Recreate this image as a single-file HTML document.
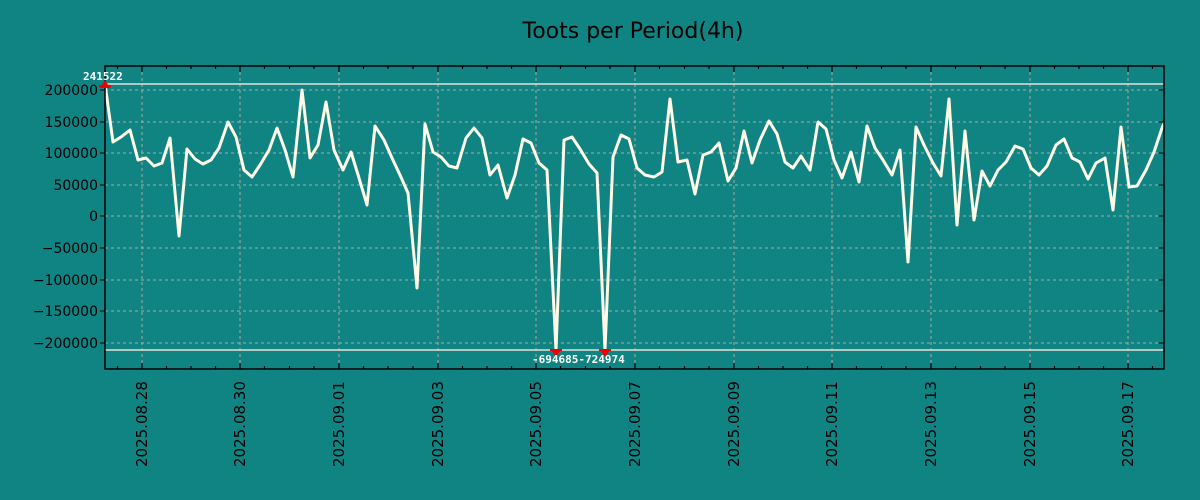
<!DOCTYPE html>
<html><head><meta charset="utf-8"><style>
html,body{margin:0;padding:0;background:#108383;}
svg{display:block;font-family:"DejaVu Sans","Liberation Sans",sans-serif;}
</style></head><body>
<svg width="1200" height="500" viewBox="0 0 1200 500" xmlns="http://www.w3.org/2000/svg">
<defs><clipPath id="c"><rect x="105" y="66" width="1059" height="303"/></clipPath></defs>
<rect width="1200" height="500" fill="#108383"/>
<text x="633" y="38" font-size="22" text-anchor="middle" fill="#000">Toots per Period(4h)</text>
<g stroke="#c8b8b0" stroke-width="1" stroke-dasharray="3,3" opacity="0.8">
<line x1="105" x2="1164" y1="90" y2="90"/><line x1="105" x2="1164" y1="122" y2="122"/><line x1="105" x2="1164" y1="153" y2="153"/><line x1="105" x2="1164" y1="185" y2="185"/><line x1="105" x2="1164" y1="216" y2="216"/><line x1="105" x2="1164" y1="248" y2="248"/><line x1="105" x2="1164" y1="280" y2="280"/><line x1="105" x2="1164" y1="311" y2="311"/><line x1="105" x2="1164" y1="343" y2="343"/>
<line y1="66" y2="369" x1="142" x2="142"/><line y1="66" y2="369" x1="240" x2="240"/><line y1="66" y2="369" x1="339" x2="339"/><line y1="66" y2="369" x1="438" x2="438"/><line y1="66" y2="369" x1="536" x2="536"/><line y1="66" y2="369" x1="635" x2="635"/><line y1="66" y2="369" x1="734" x2="734"/><line y1="66" y2="369" x1="832" x2="832"/><line y1="66" y2="369" x1="931" x2="931"/><line y1="66" y2="369" x1="1030" x2="1030"/><line y1="66" y2="369" x1="1128" x2="1128"/>
</g>
<line x1="105" x2="1164" y1="84" y2="84" stroke="#e8e0d8" stroke-width="1.5"/>
<line x1="105" x2="1164" y1="350" y2="350" stroke="#e8e0d8" stroke-width="1.5"/>
<polyline clip-path="url(#c)" fill="none" stroke="#fffbe6" stroke-width="3" stroke-linejoin="round" points="105,84 113,142 121,137 130,130 138,160 146,158 154,166 162,163 170,138 179,236 187,149 195,159 203,164 211,160 219,148 228,122 236,137 244,170 252,177 260,165 269,150 277,128 285,150 293,177 302,90 310,158 318,145 326,102 334,150 343,170 351,152 359,178 367,205 375,126 384,140 392,158 400,175 408,193 417,288 425,124 433,152 441,157 449,166 457,168 466,138 474,128 482,138 490,175 498,165 507,198 515,175 523,139 531,143 539,163 547,170 556,350 564,140 572,137 580,149 589,164 597,173 605,350 613,157 621,135 629,139 637,168 645,175 654,177 662,172 670,99 678,162 687,160 695,194 703,155 711,152 719,143 728,181 736,168 744,131 752,163 760,140 769,121 777,134 785,162 793,168 801,156 810,170 818,122 826,129 834,160 842,178 851,152 859,182 867,126 875,148 883,160 892,175 900,150 908,262 916,127 924,145 933,163 941,176 949,99 957,225 965,131 974,220 982,171 990,186 998,170 1006,162 1015,146 1023,149 1031,168 1039,175 1047,166 1056,145 1064,139 1072,158 1080,162 1088,179 1096,163 1105,158 1113,210 1121,127 1129,187 1137,186 1146,170 1154,152 1162,128 1170,110"/>
<rect x="105" y="66" width="1059" height="303" fill="none" stroke="#000" stroke-width="1.5"/>
<g fill="#e00">
<polygon points="100,88 110,88 105,80"/><rect x="99" y="85" width="12" height="2"/>
<polygon points="551,350 561,350 556,357"/><rect x="550" y="349" width="12" height="2"/>
<polygon points="600,350 610,350 605,357"/><rect x="599" y="349" width="12" height="2"/>
</g>
<g font-size="11" font-weight="bold" fill="#fff" font-family="'DejaVu Sans Mono','Liberation Mono',monospace">
<text x="83" y="80">241522</text>
<text x="532" y="363">-694685-724974</text>
</g>
<g stroke="#000" stroke-width="1">
<line x1="100" x2="105" y1="90" y2="90"/><line x1="100" x2="105" y1="122" y2="122"/><line x1="100" x2="105" y1="153" y2="153"/><line x1="100" x2="105" y1="185" y2="185"/><line x1="100" x2="105" y1="216" y2="216"/><line x1="100" x2="105" y1="248" y2="248"/><line x1="100" x2="105" y1="280" y2="280"/><line x1="100" x2="105" y1="311" y2="311"/><line x1="100" x2="105" y1="343" y2="343"/>
<line x1="1164" x2="1159" y1="90" y2="90"/><line x1="1164" x2="1159" y1="122" y2="122"/><line x1="1164" x2="1159" y1="153" y2="153"/><line x1="1164" x2="1159" y1="185" y2="185"/><line x1="1164" x2="1159" y1="216" y2="216"/><line x1="1164" x2="1159" y1="248" y2="248"/><line x1="1164" x2="1159" y1="280" y2="280"/><line x1="1164" x2="1159" y1="311" y2="311"/><line x1="1164" x2="1159" y1="343" y2="343"/>
</g>
<g stroke="#000" stroke-width="1.2">
<path d="M142,369v-6M240,369v-6M339,369v-6M438,369v-6M536,369v-6M635,369v-6M734,369v-6M832,369v-6M931,369v-6M1030,369v-6M1128,369v-6M142,66v6M240,66v6M339,66v6M438,66v6M536,66v6M635,66v6M734,66v6M832,66v6M931,66v6M1030,66v6M1128,66v6"/>
<path d="M117.5,369v-3M166.5,369v-3M191,369v-3M215.5,369v-3M264.5,369v-3M289.5,369v-3M314,369v-3M363.5,369v-3M388,369v-3M413,369v-3M462.5,369v-3M487,369v-3M511.5,369v-3M560.5,369v-3M585.5,369v-3M610,369v-3M659.5,369v-3M684.5,369v-3M709,369v-3M758.5,369v-3M783,369v-3M807.5,369v-3M856.5,369v-3M881.5,369v-3M906,369v-3M955.5,369v-3M980.5,369v-3M1005,369v-3M1054.5,369v-3M1079,369v-3M1103.5,369v-3M1152.5,369v-3"/>
<path d="M117.5,66v3M166.5,66v3M191,66v3M215.5,66v3M264.5,66v3M289.5,66v3M314,66v3M363.5,66v3M388,66v3M413,66v3M462.5,66v3M487,66v3M511.5,66v3M560.5,66v3M585.5,66v3M610,66v3M659.5,66v3M684.5,66v3M709,66v3M758.5,66v3M783,66v3M807.5,66v3M856.5,66v3M881.5,66v3M906,66v3M955.5,66v3M980.5,66v3M1005,66v3M1054.5,66v3M1079,66v3M1103.5,66v3M1152.5,66v3"/>
</g>
<g font-size="14" fill="#000" text-anchor="end">
<text x="98" y="95">200000</text><text x="98" y="127">150000</text><text x="98" y="158">100000</text><text x="98" y="190">50000</text><text x="98" y="221">0</text><text x="98" y="253">−50000</text><text x="98" y="285">−100000</text><text x="98" y="316">−150000</text><text x="98" y="348">−200000</text>
</g>
<g font-size="15" fill="#000">
<text transform="translate(147,467) rotate(-90)">2025.08.28</text>
<text transform="translate(245,467) rotate(-90)">2025.08.30</text>
<text transform="translate(344,467) rotate(-90)">2025.09.01</text>
<text transform="translate(443,467) rotate(-90)">2025.09.03</text>
<text transform="translate(541,467) rotate(-90)">2025.09.05</text>
<text transform="translate(640,467) rotate(-90)">2025.09.07</text>
<text transform="translate(739,467) rotate(-90)">2025.09.09</text>
<text transform="translate(837,467) rotate(-90)">2025.09.11</text>
<text transform="translate(936,467) rotate(-90)">2025.09.13</text>
<text transform="translate(1035,467) rotate(-90)">2025.09.15</text>
<text transform="translate(1133,467) rotate(-90)">2025.09.17</text>
</g>
</svg>
</body></html>
